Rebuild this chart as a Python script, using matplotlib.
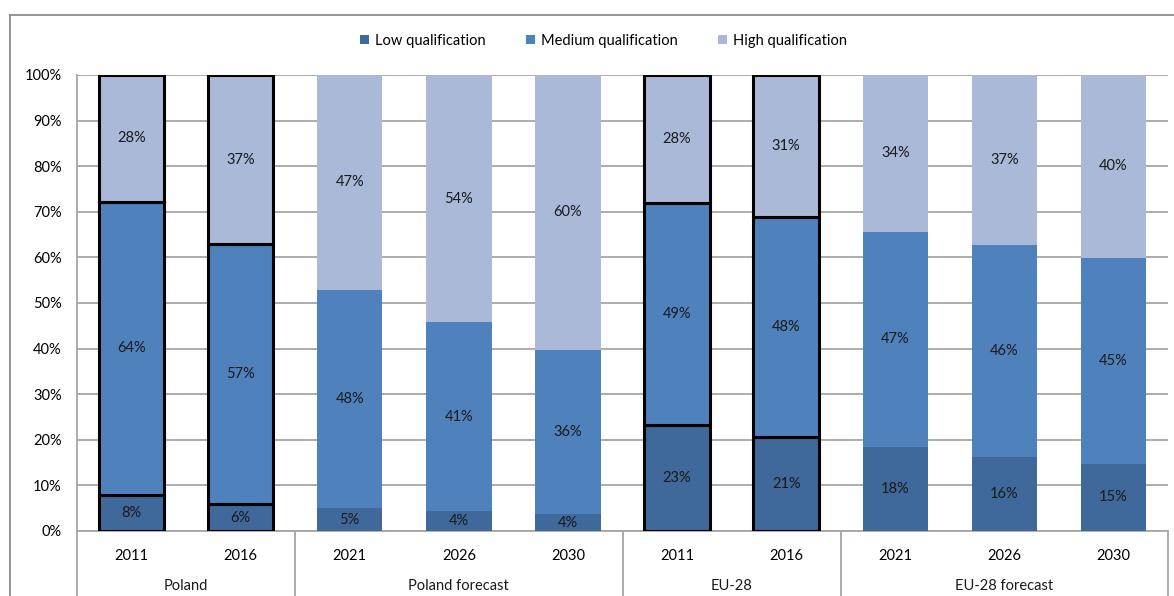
import matplotlib.pyplot as plt
import matplotlib.transforms as mtransforms
from matplotlib.patches import Patch
import numpy as np

plt.rcParams['font.family'] = ['Lato', 'DejaVu Sans']

# shares of the workforce by qualification level, %
years = ['2011', '2016', '2021', '2026', '2030', '2011', '2016', '2021', '2026', '2030']
groups = ['Poland', 'Poland forecast', 'EU-28', 'EU-28 forecast']
group_sizes = [2, 3, 2, 3]
low = [7.9, 5.9, 5.0, 4.4, 3.7, 23.2, 20.6, 18.4, 16.2, 14.7]
medium = [64.3, 57.0, 47.9, 41.4, 36.0, 48.7, 48.3, 47.2, 46.5, 45.2]
high = [27.8, 37.1, 47.1, 54.2, 60.3, 28.1, 31.1, 34.4, 37.3, 40.1]
historic = [True, True, False, False, False, True, True, False, False, False]

colors = ['#3F689B', '#4F81BD', '#AAB9D7']
names = ['Low qualification', 'Medium qualification', 'High qualification']
fs = 10.5

fig = plt.figure(figsize=(11.74, 5.96), dpi=100)
ax = fig.add_axes([77 / 1174, 1 - 531 / 596, (1168 - 77) / 1174, (531 - 75) / 596])

x = np.arange(len(years))
bottom = np.zeros(len(years))
for vals, col in zip([low, medium, high], colors):
    vals = np.array(vals)
    edges = ['black' if h else 'none' for h in historic]
    ax.bar(x, vals, bottom=bottom, width=0.6, color=col,
           edgecolor=edges, linewidth=2.2, zorder=3)
    for xi, b, v in zip(x, bottom, vals):
        ax.text(xi, b + v / 2, '%.0f%%' % v, ha='center', va='center',
                fontsize=fs, color='#1a1a1a', zorder=4)
    bottom += vals

ax.set_xlim(-0.5, len(years) - 0.5)
ax.set_ylim(0, 100)
ax.set_yticks(np.arange(0, 101, 10))
ax.set_yticklabels(['%d%%' % t for t in range(0, 101, 10)], fontsize=fs)
ax.yaxis.grid(True, color='#A6A6A6', linewidth=1.3, zorder=0)
ax.tick_params(axis='y', length=0, pad=11)
ax.set_xticks(x)
ax.set_xticklabels(years, fontsize=fs)
ax.tick_params(axis='x', length=0, pad=13)
for s in ['top', 'right']:
    ax.spines[s].set_visible(False)
for s in ['left', 'bottom']:
    ax.spines[s].set_color('#A6A6A6')
    ax.spines[s].set_linewidth(1.3)

# group row below the years
trans = mtransforms.blended_transform_factory(ax.transData, ax.transAxes)
edges_x = np.concatenate([[0], np.cumsum(group_sizes)]) - 0.5
for ex in edges_x:
    ax.plot([ex, ex], [0, -0.2], transform=trans, color='#A6A6A6',
            linewidth=1.3, clip_on=False)
for g, a, b in zip(groups, edges_x[:-1], edges_x[1:]):
    ax.text((a + b) / 2, -0.12, g, transform=trans, ha='center', va='center',
            fontsize=fs, color='#1a1a1a')

handles = [Patch(facecolor=c, label=n) for c, n in zip(colors, names)]
fig.legend(handles=handles, loc='center', bbox_to_anchor=(0.514, 1 - 41 / 596),
           ncol=3, frameon=False, fontsize=fs, handlelength=0.6,
           handleheight=0.6, handletextpad=0.4, columnspacing=2.8)

# outer chart frame
fig.add_artist(plt.Line2D([10 / 1174, 10 / 1174], [0, 1 - 15 / 596],
                          color='#8C8C8C', linewidth=1.3))
fig.add_artist(plt.Line2D([10 / 1174, 1], [1 - 15 / 596, 1 - 15 / 596],
                          color='#8C8C8C', linewidth=1.3))

fig.savefig('out.png', dpi=100)
